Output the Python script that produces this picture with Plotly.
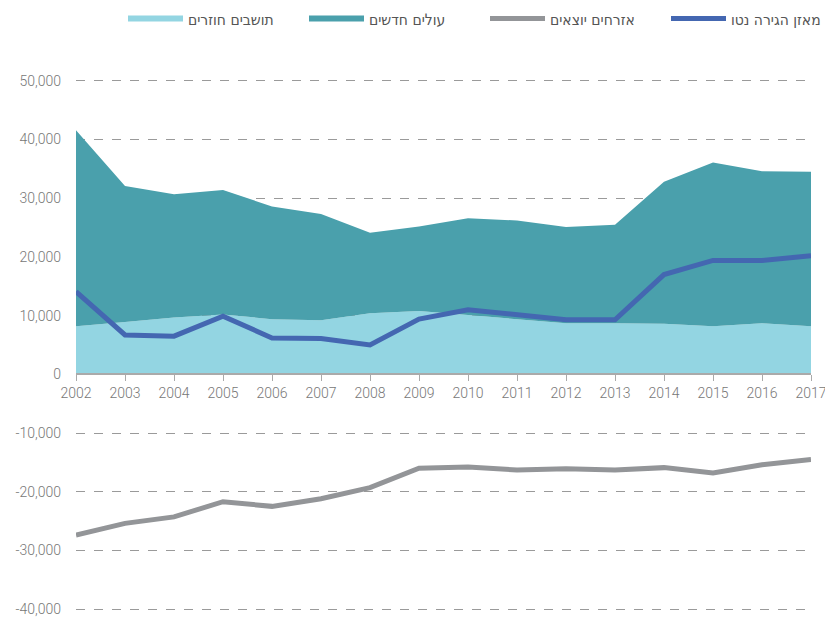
import plotly.graph_objects as go

years = list(range(2002, 2018))

# תושבים חוזרים
returning = [8200, 8900, 9700, 10200, 9400, 9200, 10400, 10800,
             10100, 9400, 8700, 8700, 8600, 8200, 8700, 8200]
# עולים חדשים
new_immigrants = [33400, 23200, 21000, 21200, 19200, 18100, 13700, 14400,
                  16500, 16800, 16400, 16800, 24200, 27900, 25900, 26300]
# אזרחים יוצאים
emigrating = [-27400, -25400, -24300, -21700, -22500, -21200, -19300, -16000,
              -15800, -16300, -16100, -16300, -15900, -16800, -15400, -14500]
# מאזן הגירה נטו
net_balance = [14100, 6700, 6500, 9900, 6200, 6100, 5000, 9400,
               11000, 10100, 9300, 9300, 17000, 19400, 19400, 20200]

y_ticks = [-40000, -30000, -20000, -10000, 0, 10000, 20000, 30000, 40000, 50000]
y_min, y_max = -40500, 51000

fig = go.Figure()
fig.add_trace(go.Scatter(x=years, y=returning, name='תושבים חוזרים',
                         stackgroup='inflow', mode='none',
                         fillcolor='#93d5e2'))
fig.add_trace(go.Scatter(x=years, y=new_immigrants, name='עולים חדשים',
                         stackgroup='inflow', mode='none',
                         fillcolor='#4aa0ac'))
fig.add_trace(go.Scatter(x=years, y=emigrating, name='אזרחים יוצאים',
                         mode='lines', line=dict(color='#939598', width=5)))
fig.add_trace(go.Scatter(x=years, y=net_balance, name='מאזן הגירה נטו',
                         mode='lines', line=dict(color='#4467b1', width=5)))

zero_pos = (0 - y_min) / (y_max - y_min)

# the page body adds an 8px margin, so the figure is a bit smaller than the window
fig.update_layout(
    width=825, height=610,
    margin=dict(l=68, r=22, t=67, b=6, autoexpand=False),
    paper_bgcolor='white', plot_bgcolor='white',
    font=dict(family='Roboto', size=14, color='#777777', weight=300),
    showlegend=True,
    legend=dict(orientation='h', x=47 / 735, xanchor='left', y=1 + 56 / 537,
                yanchor='middle', traceorder='normal', itemwidth=55,
                entrywidth=111, entrywidthmode='pixels',
                font=dict(family='DejaVu Sans Condensed, Liberation Sans',
                          size=15.5, color='#555555', weight=400)),
    xaxis=dict(range=[2002, 2017], tickvals=years, anchor='free',
               position=zero_pos, showgrid=False, showline=True,
               linecolor='#aaaaaa', linewidth=2, ticks='outside', ticklen=6,
               tickcolor='#aaaaaa', zeroline=False, ticklabeloverflow='allow',
               tickfont=dict(size=14, color='#777777')),
    yaxis=dict(range=[y_min, y_max], tickvals=y_ticks,
               ticktext=['{:,}'.format(v) for v in y_ticks],
               showgrid=True, gridcolor='#9a9a9a', griddash='dash',
               gridwidth=1, zeroline=False, showline=False,
               ticklabelstandoff=14, ticklabeloverflow='allow',
               tickfont=dict(size=14, color='#777777')),
)

fig.write_html("out.html")
